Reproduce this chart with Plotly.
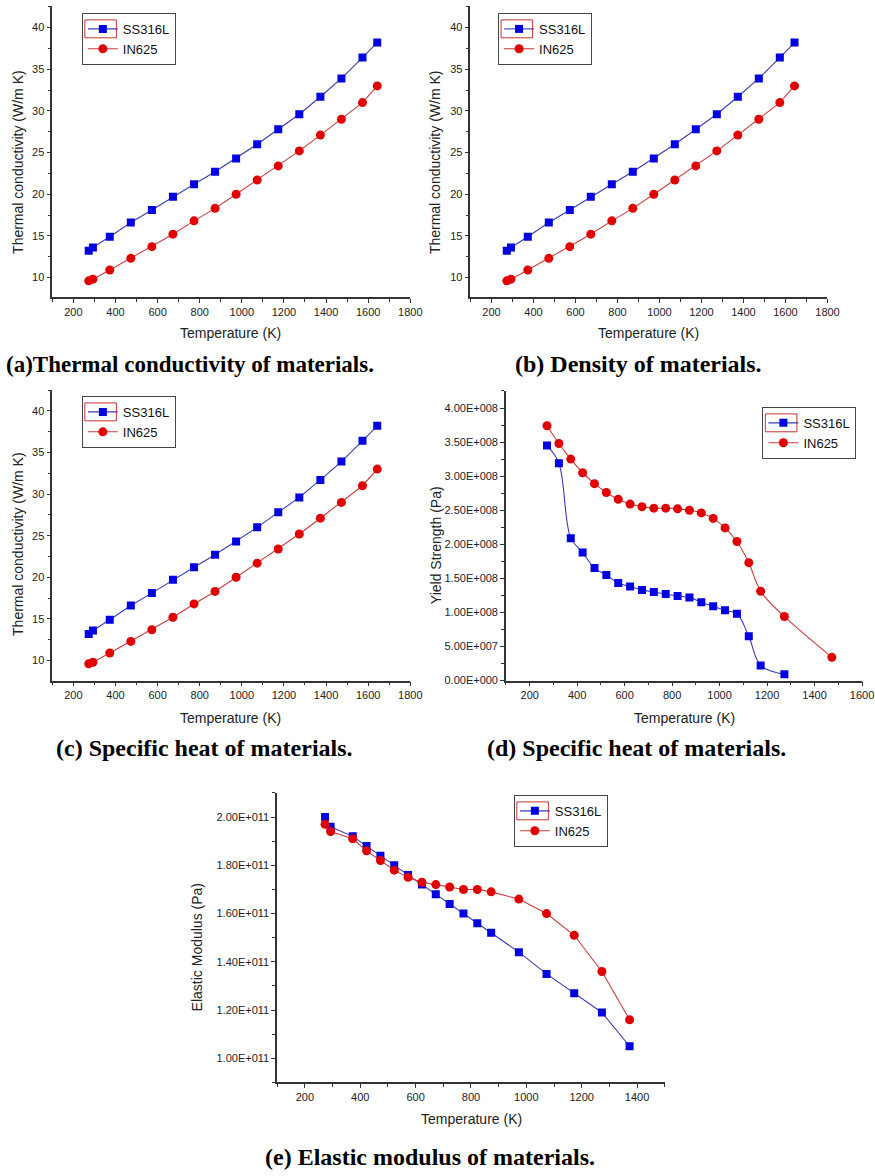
import plotly.graph_objects as go

W, H = 875, 1176

# ---------------- data ----------------
T_tc = [273, 293, 373, 473, 573, 673, 773, 873, 973, 1073, 1173, 1273, 1373, 1473, 1573, 1643]
tc_ss = [13.2, 13.6, 14.9, 16.6, 18.1, 19.7, 21.2, 22.7, 24.3, 26.0, 27.8, 29.6, 31.7, 33.9, 36.4, 38.2]
tc_in = [9.6, 9.8, 10.9, 12.3, 13.7, 15.2, 16.8, 18.3, 20.0, 21.7, 23.4, 25.2, 27.1, 29.0, 31.0, 33.0]

T_ys_ss = [273, 323, 373, 423, 473, 523, 573, 623, 673, 723, 773, 823, 873, 923, 973, 1023, 1073, 1123, 1173, 1273]
ys_ss = [3.45e8, 3.19e8, 2.09e8, 1.88e8, 1.65e8, 1.55e8, 1.43e8, 1.38e8, 1.33e8, 1.30e8,
         1.27e8, 1.24e8, 1.22e8, 1.15e8, 1.09e8, 1.03e8, 0.98e8, 0.65e8, 0.22e8, 0.09e8]
T_ys_in = [273, 323, 373, 423, 473, 523, 573, 623, 673, 723, 773, 823, 873, 923, 973, 1023, 1073, 1123, 1173, 1273, 1473]
ys_in = [3.74e8, 3.48e8, 3.25e8, 3.05e8, 2.89e8, 2.76e8, 2.66e8, 2.59e8, 2.55e8, 2.53e8, 2.53e8,
         2.52e8, 2.50e8, 2.46e8, 2.38e8, 2.24e8, 2.04e8, 1.73e8, 1.31e8, 0.94e8, 0.34e8]

T_em = [273, 293, 373, 423, 473, 523, 573, 623, 673, 723, 773, 823, 873, 973, 1073, 1173, 1273, 1373]
em_ss = [2.00e11, 1.96e11, 1.92e11, 1.88e11, 1.84e11, 1.80e11, 1.76e11, 1.72e11, 1.68e11, 1.64e11,
         1.60e11, 1.56e11, 1.52e11, 1.44e11, 1.35e11, 1.27e11, 1.19e11, 1.05e11]
em_in = [1.97e11, 1.94e11, 1.91e11, 1.86e11, 1.82e11, 1.78e11, 1.75e11, 1.73e11, 1.72e11, 1.71e11,
         1.70e11, 1.70e11, 1.69e11, 1.66e11, 1.60e11, 1.51e11, 1.36e11, 1.16e11]

x_ticks = [200, 400, 600, 800, 1000, 1200, 1400, 1600, 1800]
tc_ticks = [10, 15, 20, 25, 30, 35, 40]
ys_tickvals = [0, 0.5e8, 1.0e8, 1.5e8, 2.0e8, 2.5e8, 3.0e8, 3.5e8, 4.0e8]
ys_ticktext = ["0.00E+000", "5.00E+007", "1.00E+008", "1.50E+008", "2.00E+008",
               "2.50E+008", "3.00E+008", "3.50E+008", "4.00E+008"]
em_tickvals = [1.0e11, 1.2e11, 1.4e11, 1.6e11, 1.8e11, 2.0e11]
em_ticktext = ["1.00E+011", "1.20E+011", "1.40E+011", "1.60E+011", "1.80E+011", "2.00E+011"]

names = ["SS316L", "IN625"]
captions = ["(a)Thermal conductivity of materials.", "(b) Density of materials.",
            "(c) Specific heat of materials.", "(d) Specific heat of materials.",
            "(e) Elastic modulus of materials."]
y_titles = ["Thermal conductivity (W/m K)", "Thermal conductivity (W/m K)",
            "Thermal conductivity (W/m K)", "Yield Strength (Pa)", "Elastic Modulus (Pa)"]
x_title = "Temperature (K)"

BLUE = "#0000e0"
RED = "#e00000"
BLUE_L = "#3b3bb8"
RED_L = "#cc3c3c"
AX = "#333333"
SANS = "Liberation Sans, Arial, sans-serif"
SERIF = "Liberation Serif, Times New Roman, serif"

def px(x):
    return x / W

def py(y):
    return 1 - y / H

# panel geometry in pixels: (x0, x1, ytop, ybottom)
panels = [
    (53, 416, 6, 299),
    (477, 839, 6, 299),
    (53, 416, 392, 684),
    (513, 874, 393, 684),
    (281, 674, 797, 1088),
]

fig = go.Figure()

series = [
    (T_tc, tc_ss, T_tc, tc_in, "linear"),
    (T_tc, tc_ss, T_tc, tc_in, "linear"),
    (T_tc, tc_ss, T_tc, tc_in, "linear"),
    (T_ys_ss, ys_ss, T_ys_in, ys_in, "spline"),
    (T_em, em_ss, T_em, em_in, "linear"),
]

for i, (xs, ss, xi, ins, shape) in enumerate(series):
    k = "" if i == 0 else str(i + 1)
    lg = "legend" + k
    fig.add_trace(go.Scatter(
        x=xs, y=ss, name=names[0], mode="lines+markers",
        line=dict(color=BLUE_L, width=1.1, shape=shape, smoothing=1.0),
        marker=dict(symbol="square", size=8, color=BLUE),
        xaxis="x" + k, yaxis="y" + k, legend=lg))
    fig.add_trace(go.Scatter(
        x=xi, y=ins, name=names[1], mode="lines+markers",
        line=dict(color=RED_L, width=1.1, shape=shape, smoothing=1.0),
        marker=dict(symbol="circle", size=9, color=RED),
        xaxis="x" + k, yaxis="y" + k, legend=lg))

def axis_common():
    return dict(showline=True, linecolor=AX, linewidth=1.5, showgrid=False, zeroline=False,
                ticks="outside", ticklen=4, tickwidth=1.2, tickcolor=AX,
                tickfont=dict(family=SANS, size=11, color="#222"),
                minor=dict(ticks="outside", ticklen=3, tickwidth=1, tickcolor=AX))

layout = dict(width=W, height=H, margin=dict(l=0, r=0, t=0, b=0),
              paper_bgcolor="white", plot_bgcolor="white", showlegend=True)

xranges = [[100, 1800], [100, 1800], [100, 1800], [100, 1600], [100, 1500]]
yranges = [[7.6, 42.6], [7.6, 42.6], [7.6, 42.5], [0, 4.25e8], [0.9e11, 2.1e11]]

for i, (x0, x1, yt, yb) in enumerate(panels):
    k = "" if i == 0 else str(i + 1)
    xa = axis_common()
    xa.update(domain=[px(x0), px(x1)], range=xranges[i], anchor="y" + k,
              tickmode="array", tickvals=x_ticks)
    xa["minor"].update(tickmode="linear", dtick=100, tick0=100)
    ya = axis_common()
    ya.update(domain=[py(yb), py(yt)], range=yranges[i], anchor="x" + k)
    if i < 3:
        ya.update(tickmode="array", tickvals=tc_ticks)
        ya["minor"].update(tickmode="linear", dtick=2.5, tick0=0)
    elif i == 3:
        ya.update(tickmode="array", tickvals=ys_tickvals, ticktext=ys_ticktext)
        ya["minor"].update(tickmode="linear", dtick=0.25e8, tick0=0)
    else:
        ya.update(tickmode="array", tickvals=em_tickvals, ticktext=em_ticktext)
        ya["minor"].update(tickmode="linear", dtick=0.1e11, tick0=0)
    layout["xaxis" + k] = xa
    layout["yaxis" + k] = ya

# legends (left, top in pixels)
legend_pos = [(83, 13), (505, 13), (83, 398), (773, 409), (521, 799)]
for i, (lx, ly) in enumerate(legend_pos):
    k = "" if i == 0 else str(i + 1)
    layout["legend" + k] = dict(
        x=px(lx), y=py(ly), xanchor="left", yanchor="top",
        bgcolor="rgba(255,255,255,0)", bordercolor="#444", borderwidth=1,
        font=dict(family=SANS, size=13, color="#111"),
        tracegroupgap=0, itemwidth=30)

fig.update_layout(**layout)

# red selection rectangle artefacts around first legend sample
for (lx, ly) in legend_pos:
    fig.add_shape(type="rect", xref="paper", yref="paper", layer="above",
                  x0=px(lx + 3), x1=px(lx + 35), y0=py(ly + 25), y1=py(ly + 7),
                  line=dict(color="#c83232", width=1), fillcolor="rgba(0,0,0,0)")

# axis titles
xt_pos = [(234, 335), (658, 335), (234, 722), (694, 722), (478, 1125)]
for (tx, ty) in xt_pos:
    fig.add_annotation(text=x_title, x=px(tx), y=py(ty), xref="paper", yref="paper",
                       showarrow=False, xanchor="center", yanchor="middle",
                       font=dict(family=SANS, size=14, color="#222"))
yt_pos = [(18, 163), (441, 163), (18, 547), (442, 548), (200, 952)]
for (tx, ty), t in zip(yt_pos, y_titles):
    fig.add_annotation(text=t, x=px(tx), y=py(ty), xref="paper", yref="paper",
                       showarrow=False, xanchor="center", yanchor="middle", textangle=-90,
                       font=dict(family=SANS, size=14, color="#222"))

# captions: (x, y, anchor, size)
cap_pos = [(4, 366, "left", 23), (647, 366, "center", 24), (207, 752, "center", 24),
           (645, 752, "center", 24), (436, 1163, "center", 24)]
for (cx, cy, anc, sz), t in zip(cap_pos, captions):
    fig.add_annotation(text="<b>" + t + "</b>", x=px(cx), y=py(cy), xref="paper", yref="paper",
                       showarrow=False, xanchor=anc, yanchor="middle",
                       font=dict(family=SERIF, size=sz, color="#000"))

fig.write_html("out.html")
